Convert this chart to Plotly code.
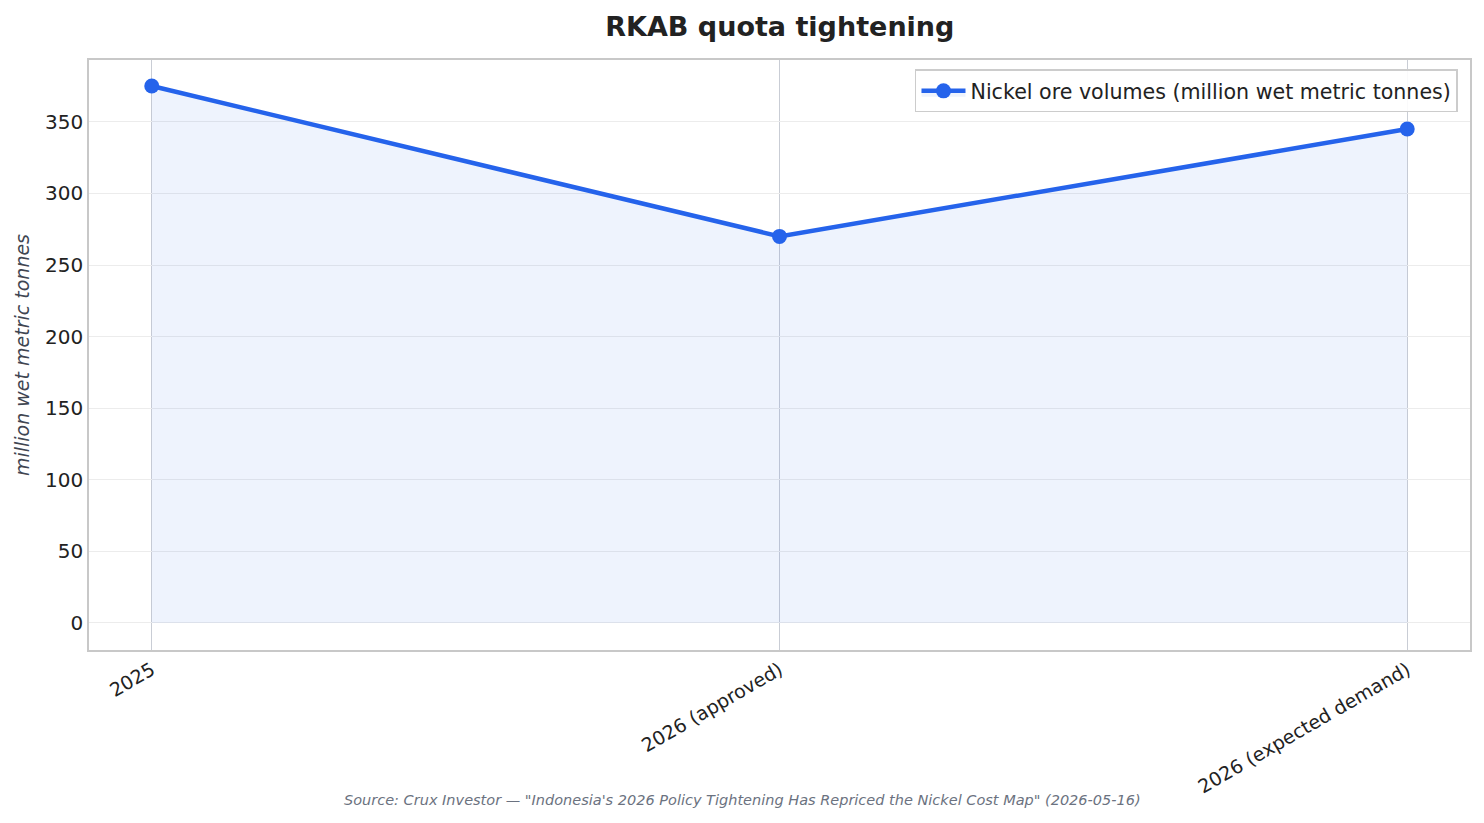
import plotly.graph_objects as go

categories = ["2025", "2026 (approved)", "2026 (expected demand)"]
volumes = [375, 270, 345]
series_name = "Nickel ore volumes (million wet metric tonnes)"
y_ticks = [0, 50, 100, 150, 200, 250, 300, 350]

BLUE = "#2563eb"
FONT = "DejaVu Sans"

fig = go.Figure()
fig.add_trace(go.Scatter(
    x=list(range(len(categories))), y=volumes, mode="lines+markers",
    name=series_name,
    line=dict(color=BLUE, width=4.5),
    marker=dict(color=BLUE, size=15),
    fill="tozeroy", fillcolor="rgba(37,99,235,0.08)",
))

fig.update_layout(
    width=1484, height=823,
    margin=dict(l=89, r=14, t=60, b=173, autoexpand=False),
    paper_bgcolor="white", plot_bgcolor="white",
    font=dict(family=FONT, color="#222222"),
    title=dict(text="<b>RKAB quota tightening</b>", x=0.5255, xanchor="center",
               y=1 - 27 / 823, yanchor="middle", yref="container",
               font=dict(size=27, color="#222222", family=FONT)),
    showlegend=True,
    legend=dict(x=0.9913, xanchor="right", y=0.984, yanchor="top",
                bgcolor="rgba(255,255,255,0.9)", bordercolor="#cccccc", borderwidth=1.5,
                itemwidth=44,
                font=dict(size=20.6, color="#222222", family=FONT)),
    xaxis=dict(
        tickmode="array", tickvals=list(range(len(categories))), ticktext=categories,
        range=[-0.1, 2.1], tickangle=-30,
        tickfont=dict(size=19, color="#222222"),
        showgrid=True, gridcolor="#c9cdd5", gridwidth=1,
        showline=True, linecolor="#c8c8c8", linewidth=1.5, mirror=True,
        zeroline=False, ticks="",
    ),
    yaxis=dict(
        tickmode="array", tickvals=y_ticks,
        range=[-18.9, 393.2],
        tickfont=dict(size=20, color="#222222"),
        showgrid=True, gridcolor="#ececec", gridwidth=1,
        showline=True, linecolor="#c8c8c8", linewidth=1.5, mirror=True,
        zeroline=False, ticks="",
        title=dict(text="<i>million wet metric tonnes</i>", standoff=10,
                   font=dict(size=19, color="#3f4652", family=FONT)),
    ),
)

fig.add_annotation(
    text="<i>Source: Crux Investor — \"Indonesia's 2026 Policy Tightening Has Repriced the Nickel Cost Map\" (2026-05-16)</i>",
    xref="paper", yref="paper", x=(742 - 89) / 1381, y=(650 - 800) / 590,
    xanchor="center", yanchor="middle", showarrow=False,
    font=dict(size=14.5, color="#6b7280", family=FONT),
)

fig.write_html("out.html")
